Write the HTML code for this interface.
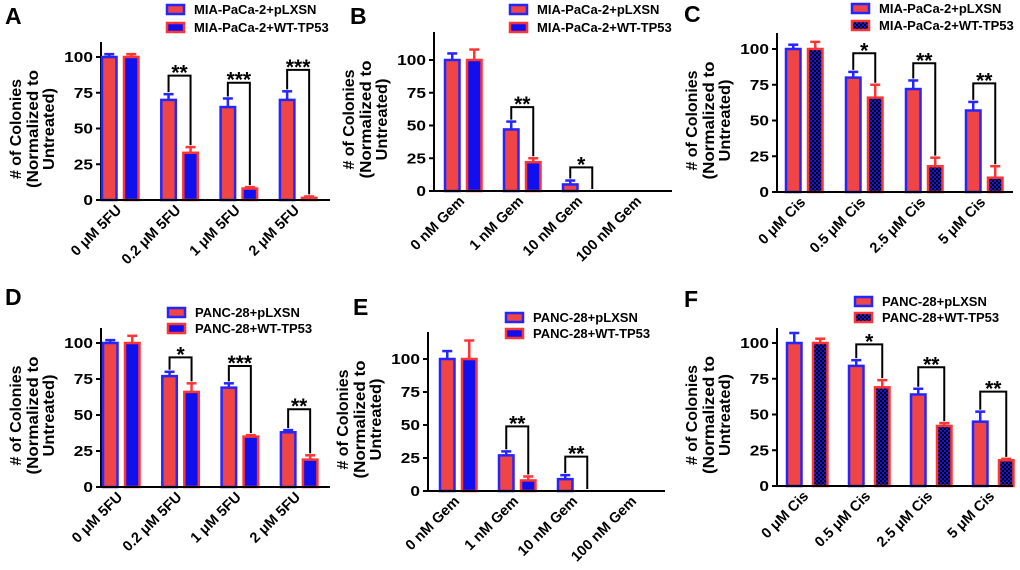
<!DOCTYPE html>
<html><head><meta charset="utf-8"><style>
html,body{margin:0;padding:0;background:#fff}
svg{display:block;font-family:"Liberation Sans",Arial,sans-serif;font-weight:bold}
</style></head><body>
<svg id="fig" width="1020" height="570" viewBox="0 0 1020 570" xmlns="http://www.w3.org/2000/svg">
<defs>
<pattern id="chk" width="4" height="4" patternUnits="userSpaceOnUse">
<rect width="4" height="4" fill="#1515e0"/><rect width="2" height="2" fill="#000"/><rect x="2" y="2" width="2" height="2" fill="#000"/>
</pattern>
</defs>
</svg>
<script>
// Panel A
const catsA=["0 μM 5FU","0.2 μM 5FU","1 μM 5FU","2 μM 5FU"];
const redA=[100,70,65,70], redErrA=[2,4,6,6], blueA=[100,33,8,1.5], blueErrA=[2,4,1,1];
const brA=[null,87,82,91], starsA=["","**","***","***"];
// Panel B
const catsB=["0 nM Gem","1 nM Gem","10 nM Gem","100 nM Gem"];
const redB=[100,47,5,0], redErrB=[5,6,3,0], blueB=[100,22,0,0], blueErrB=[8,3,0,0];
const brB=[null,64,18,null], starsB=["","**","*",""];
// Panel C
const catsC=["0 μM Cis","0.5 μM Cis","2.5 μM Cis","5 μM Cis"];
const redC=[100,80,72,57], redErrC=[3,4,6,6], blueC=[100,66,18,10], blueErrC=[5,9,6,8];
const brC=[null,97,90,76], starsC=["","*","**","**"];
// Panel D
const catsD=["0 μM 5FU","0.2 μM 5FU","1 μM 5FU","2 μM 5FU"];
const redD=[100,77,69,38], redErrD=[2,3,3,1.5], blueD=[100,66,35,19], blueErrD=[5,6,1,3];
const brD=[null,90,84,54], starsD=["","*","***","**"];
// Panel E
const catsE=["0 nM Gem","1 nM Gem","10 nM Gem","100 nM Gem"];
const redE=[100,27,9,0], redErrE=[6,3,3,0], blueE=[100,8,0,0], blueErrE=[14,3,0,0];
const brE=[null,49,26,null], starsE=["","**","**",""];
// Panel F
const catsF=["0 μM Cis","0.5 μM Cis","2.5 μM Cis","5 μM Cis"];
const redF=[100,84,64,45], redErrF=[7,4,4,7], blueF=[100,69,42,18], blueErrF=[3,5,2,1];
const brF=[null,99,83,66], starsF=["","*","**","**"];
const ticks=[0,25,50,75,100];

const svg=document.getElementById('fig');
const NS="http://www.w3.org/2000/svg";
const RED="#f04545", BLUE="#1010ee", BRD_B="#2525ff", BRD_R="#ff3535";
function mk(tag,at,parent){const e=document.createElementNS(NS,tag);for(const k in at)e.setAttribute(k,at[k]);(parent||svg).appendChild(e);return e;}

const panels=[
 {id:"a",L:"A",lx:5,ly:24,ax:101,base:200,y100:57,top:42,end:330,off:1,bo:23,sp:59.3,cats:catsA,r:redA,re:redErrA,b:blueA,be:blueErrA,br:brA,st:starsA,pat:false,legX:167,legY:[9,27],leg:["MIA-PaCa-2+pLXSN","MIA-PaCa-2+WT-TP53"]},
 {id:"b",L:"B",lx:350,ly:24,ax:434,base:191,y100:60,top:32,end:672,off:11,bo:33,sp:59,cats:catsB,r:redB,re:redErrB,b:blueB,be:blueErrB,br:brB,st:starsB,pat:false,legX:510,legY:[9,27],leg:["MIA-PaCa-2+pLXSN","MIA-PaCa-2+WT-TP53"]},
 {id:"c",L:"C",lx:684,ly:22,ax:777,base:192,y100:49,top:33,end:1013,off:9,bo:31,sp:60,cats:catsC,r:redC,re:redErrC,b:blueC,be:blueErrC,br:brC,st:starsC,pat:true,legX:852,legY:[8,25],leg:["MIA-PaCa-2+pLXSN","MIA-PaCa-2+WT-TP53"]},
 {id:"d",L:"D",lx:5,ly:305,ax:101,base:487,y100:343,top:328,end:330,off:2,bo:24,sp:59.3,cats:catsD,r:redD,re:redErrD,b:blueD,be:blueErrD,br:brD,st:starsD,pat:false,legX:168,legY:[312,328],leg:["PANC-28+pLXSN","PANC-28+WT-TP53"]},
 {id:"e",L:"E",lx:353,ly:315,ax:428,base:491,y100:359,top:332,end:665,off:12,bo:34,sp:59,cats:catsE,r:redE,re:redErrE,b:blueE,be:blueErrE,br:brE,st:starsE,pat:false,legX:506,legY:[317,333],leg:["PANC-28+pLXSN","PANC-28+WT-TP53"]},
 {id:"f",L:"F",lx:684,ly:307,ax:777,base:486,y100:343,top:328,end:1013,off:10,bo:36,sp:62,cats:catsF,r:redF,re:redErrF,b:blueF,be:blueErrF,br:brF,st:starsF,pat:true,legX:855,legY:[301,317],leg:["PANC-28+pLXSN","PANC-28+WT-TP53"]}
];

panels.forEach(p=>{
 const g=mk('g',{});
 
 
 const y=v=>p.base-(p.base-p.y100)*v/100;
 const lab=mk('text',{x:p.lx,y:p.ly,'font-size':23,fill:'#000'},g);lab.textContent=p.L;
 
 
 p.leg.forEach((t,i)=>{
  const ly=p.legY[i];
  const sw=mk('rect',{x:p.legX,y:ly-4,width:17,height:9,fill:i==0?RED:(p.pat?'url(#chk)':BLUE),stroke:i==0?BRD_B:BRD_R,'stroke-width':2.5},g);
  
  
  const tx=mk('text',{x:p.legX+27,y:ly+5,'font-size':13,fill:'#000'},g);tx.textContent=t;
  
  
 });
 const ya=mk('line',{x1:p.ax,y1:p.top,x2:p.ax,y2:p.base+1,stroke:'#000','stroke-width':2},g);
 
 
 ticks.forEach(t=>{
  mk('line',{x1:p.ax-5,y1:y(t),x2:p.ax,y2:y(t),stroke:'#000','stroke-width':2},g);
  const s=String(t);
  const tl=mk('text',{x:p.ax-8,y:y(t)+5,'font-size':14.5,'text-anchor':'end',textLength:s.length*9.6,lengthAdjust:'spacingAndGlyphs',fill:'#000'},g);tl.textContent=s;
  
  
 });
 const cy=(p.top+p.base)/2+8;
 ["# of Colonies","(Normalized to","Untreated)"].forEach((t,i)=>{
  const xx=p.ax-[80,63,47][i];
  const tt=mk('text',{x:xx,y:cy,'font-size':16,'text-anchor':'middle',textLength:[100,118,82][i],lengthAdjust:'spacingAndGlyphs',transform:`rotate(-90 ${xx} ${cy})`,fill:'#000'},g);tt.textContent=t;
  
  
 });
 p.cats.forEach((c,i)=>{
  const x0=p.ax+p.off+i*p.sp, x1=p.ax+p.bo+i*p.sp, w=14.5;
  [[x0,p.r[i],p.re[i],RED,BRD_B,'red'],[x1,p.b[i],p.be[i],p.pat?'url(#chk)':BLUE,BRD_R,'blue']].forEach(([bx,v,e,fill,st,nm])=>{
   if(v<=0)return;
   const cx=bx+w/2;
   if(e>0){
    mk('line',{x1:cx,y1:y(v),x2:cx,y2:y(v+e),stroke:st,'stroke-width':2.5},g);
    mk('line',{x1:cx-5,y1:y(v+e),x2:cx+5,y2:y(v+e),stroke:st,'stroke-width':2.5},g);
   }
   const r=mk('rect',{x:bx,y:y(v),width:w,height:p.base-y(v),fill:fill,stroke:st,'stroke-width':2.5},g);
   
   
  });
  if(p.br[i]!=null){
   const c0=x0+w/2,c1=x1+w/2,by=y(p.br[i]);
   const l1=y(p.r[i]+p.re[i])-2, l2=Math.min(p.base,y(p.b[i]+p.be[i])-2);
   const pb=mk('path',{d:`M${c0} ${l1} V${by} H${c1} V${l2}`,fill:'none',stroke:'#000','stroke-width':2},g);
   
   
   const s=mk('text',{x:(c0+c1)/2,y:by+4,'font-size':21,'text-anchor':'middle',fill:'#000'},g);s.textContent=p.st[i];
   
   
  }
  const gx=(x0+x1+w)/2+2, gy=p.base+11;
  const xl=mk('text',{x:gx,y:gy,'font-size':14.5,'text-anchor':'end',transform:`rotate(-45 ${gx} ${gy})`,fill:'#000'},g);xl.textContent=c;
  
  
 });
 const xa=mk('line',{x1:p.ax-1,y1:p.base,x2:p.end,y2:p.base,stroke:'#000','stroke-width':2},g);
 
 
});
</script>
</body></html>
